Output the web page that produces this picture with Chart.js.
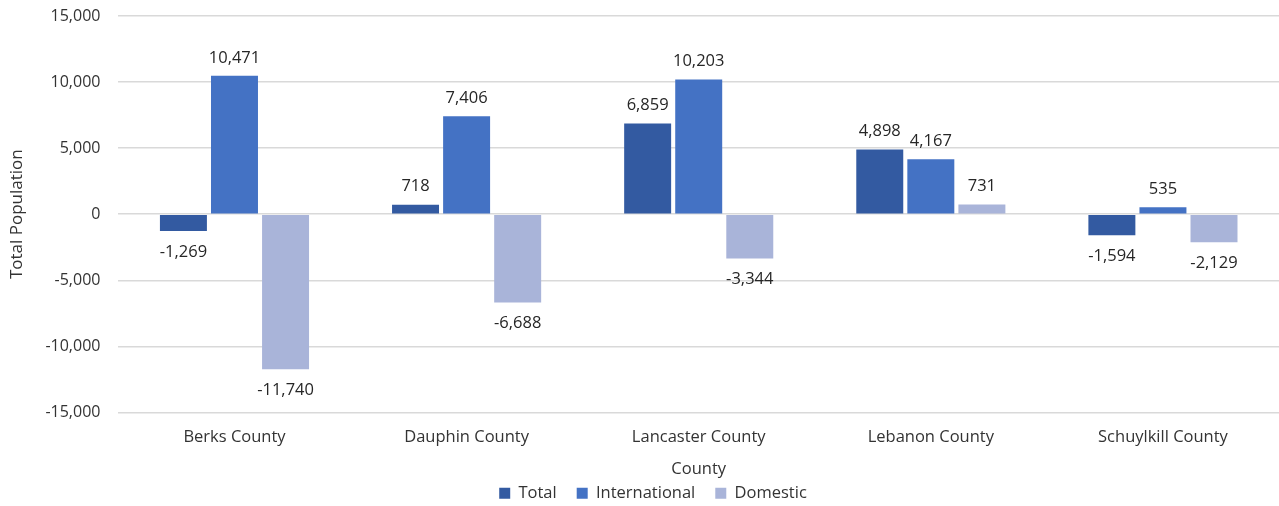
<!DOCTYPE html>
<html><head><meta charset="utf-8">
<script src="https://cdn.jsdelivr.net/npm/chart.js@4"></script>
<style>html,body{margin:0;padding:0;background:#fff}#wrap{width:1279px;height:506px}</style>
</head><body><div id="wrap"><canvas id="c" width="1279" height="506"></canvas></div>
<script>
const categories = ["Berks County", "Dauphin County", "Lancaster County", "Lebanon County", "Schuylkill County"];
const totalValues = [-1269, 718, 6859, 4898, -1594];
const internationalValues = [10471, 7406, 10203, 4167, 535];
const domesticValues = [-11740, -6688, -3344, 731, -2129];
const seriesNames = ["Total", "International", "Domestic"];

const FONT = "'Open Sans', 'Liberation Sans', sans-serif";
const FS = 16.5;
const LEGEND_H = 27;
const LEGEND_SHIFT = 14;
const LEGEND_DX = 10;

const labelPlugin = {
  id: 'vals',
  afterInit(chart) {
    const lg = chart.legend;
    if (lg) {
      const f = lg.fit;
      lg.fit = function () { f.apply(this, arguments); this.height = LEGEND_H; };
    }
  },
  afterLayout(chart) {
    const lg = chart.legend;
    if (lg) {
      lg.top -= LEGEND_SHIFT; lg.height = lg.bottom - lg.top;
      lg.left += LEGEND_DX; lg.right += LEGEND_DX;
    }
  },
  afterDatasetsDraw(chart) {
    const ctx = chart.ctx;
    ctx.save();
    ctx.font = FS + "px " + FONT;
    ctx.fillStyle = '#262626';
    ctx.textAlign = 'center';
    ctx.textBaseline = 'middle';
    chart.data.datasets.forEach((ds, i) => {
      const meta = chart.getDatasetMeta(i);
      meta.data.forEach((bar, j) => {
        const v = ds.data[j];
        const s = v.toLocaleString('en-US');
        if (v >= 0) ctx.fillText(s, bar.x, bar.y - 18);
        else ctx.fillText(s, bar.x, bar.y + 21);
      });
    });
    ctx.restore();
  }
};

new Chart(document.getElementById('c'), {
  type: 'bar',
  data: {
    labels: categories,
    datasets: [
      { label: seriesNames[0], data: totalValues, backgroundColor: '#335AA1' },
      { label: seriesNames[1], data: internationalValues, backgroundColor: '#4472C4' },
      { label: seriesNames[2], data: domesticValues, backgroundColor: '#A9B4D9' }
    ]
  },
  options: {
    responsive: false,
    animation: false,
    devicePixelRatio: 1,
    layout: { padding: { top: 16, right: 0, left: 7, bottom: 0 } },
    datasets: { bar: { categoryPercentage: 0.66, barPercentage: 0.92 } },
    plugins: {
      legend: {
        position: 'bottom',
        labels: { boxWidth: 11, boxHeight: 11, padding: 20, color: '#333333', font: { family: FONT, size: FS } }
      },
      tooltip: { enabled: false }
    },
    scales: {
      x: {
        grid: { display: false },
        border: { display: false },
        ticks: { color: '#333333', font: { family: FONT, size: FS }, padding: 7 },
        title: { display: true, text: 'County', color: '#333333', font: { family: FONT, size: FS }, padding: { top: 5, bottom: 0 } }
      },
      y: {
        min: -15000, max: 15000,
        afterFit(scale) { scale.paddingTop = 0; scale.paddingBottom = 0; },
        ticks: { stepSize: 5000, color: '#333333', font: { family: FONT, size: 16 }, padding: 18,
          callback: v => v.toLocaleString('en-US') },
        grid: { color: '#d9d9d9', lineWidth: 1.5, drawTicks: false },
        border: { display: false },
        title: { display: true, text: 'Total Population', color: '#333333', font: { family: FONT, size: 17 }, padding: { top: 0, bottom: 0 } }
      }
    }
  },
  plugins: [labelPlugin]
});
</script></body></html>
